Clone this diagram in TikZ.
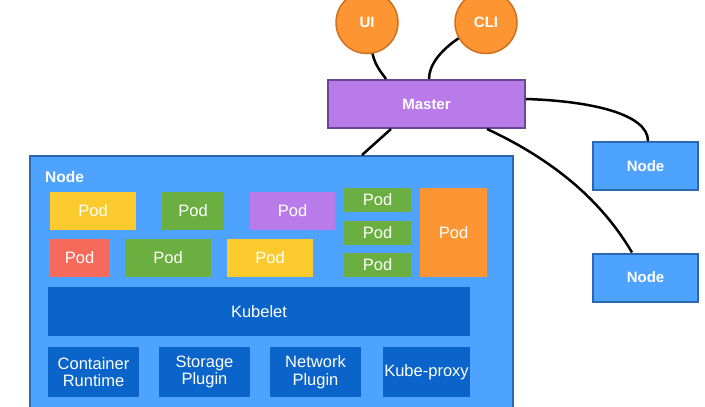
\documentclass[tikz,border=0pt]{standalone}
\usepackage{fontspec}
\setmainfont{Liberation Sans}
\usetikzlibrary{calc}
\definecolor{nodeblue}{HTML}{4DA3FF}
\definecolor{nodeborder}{HTML}{2C68AE}
\definecolor{darkblue}{HTML}{0A64C9}
\definecolor{podyellow}{HTML}{FBCB2D}
\definecolor{podgreen}{HTML}{6AAF3F}
\definecolor{podpurple}{HTML}{B97BE9}
\definecolor{podred}{HTML}{F7695A}
\definecolor{podorange}{HTML}{FC9532}
\definecolor{circborder}{HTML}{D06F1C}
\definecolor{masterborder}{HTML}{6A4795}
\begin{document}
\begin{tikzpicture}[x=1pt,y=-1pt,
  box/.style={draw=none, inner sep=0pt, outer sep=0pt, text=white,
    font=\fontsize{16.5}{17.5}\selectfont, align=center},
  pod/.style={box, minimum height=38pt},
  comp/.style={box, fill=darkblue},
  bold/.style={font=\fontsize{15}{17}\selectfont\bfseries, text=white},
  client/.style={circle, fill=podorange, draw=circborder, line width=1.5pt,
    minimum size=62pt, inner sep=0pt, bold},
  worker/.style={draw=nodeborder, line width=2pt, fill=nodeblue, inner sep=0pt,
    minimum width=105pt, minimum height=48pt, bold},
  link/.style={black, line width=2.5pt}
]
\useasboundingbox (0,0) rectangle (705,407);
\begin{scope}
\clip (0,0) rectangle (705,407);

% big node container
\node[draw=nodeborder, line width=1.5pt, fill=nodeblue, inner sep=0pt,
  minimum width=483pt, minimum height=270pt, anchor=north west] (bignode) at (29,155) {};
\node[bold, anchor=west, inner sep=0pt, font=\fontsize{15.5}{17}\selectfont\bfseries] (bignodelabel) at (45,177) {Node};

% pods row 1
\node[pod, fill=podyellow, minimum width=86pt] (p1) at (93,211) {Pod};
\node[pod, fill=podgreen, minimum width=62pt] (p2) at (193,211) {Pod};
\node[pod, fill=podpurple, minimum width=85pt] (p3) at (292.5,211) {Pod};
\node[box, fill=podgreen, minimum width=67pt, minimum height=24pt] (s1) at (377.5,200) {Pod};
\node[box, fill=podgreen, minimum width=67pt, minimum height=24pt] (s2) at (377.5,233) {Pod};
\node[box, fill=podgreen, minimum width=67pt, minimum height=24pt] (s3) at (377.5,265) {Pod};
\node[box, fill=podorange, minimum width=67pt, minimum height=89pt] (po) at (453.5,232.5) {Pod};
% pods row 2
\node[pod, fill=podred, minimum width=59pt] (p4) at (79.5,258) {Pod};
\node[pod, fill=podgreen, minimum width=86pt] (p5) at (168,258) {Pod};
\node[pod, fill=podyellow, minimum width=86pt] (p6) at (270,258) {Pod};

% kubelet and components
\node[comp, minimum width=422pt, minimum height=49pt] (kubelet) at (259,311.5) {Kubelet};
\node[comp, minimum width=91pt, minimum height=50pt] (cr) at (93.5,372) {Container\\Runtime};
\node[comp, minimum width=91pt, minimum height=50pt] (sp) at (204.5,372) {Storage\\Plugin};
\node[comp, minimum width=91pt, minimum height=50pt] (np) at (315.5,372) {Network\\Plugin};
\node[comp, minimum width=87pt, minimum height=50pt] (kp) at (426.5,372) {Kube-proxy};

% master, clients, workers
\node[draw=masterborder, line width=2pt, fill=podpurple, inner sep=0pt,
  minimum width=197pt, minimum height=48pt, bold] (master) at (426.5,104) {Master};
\node[client] (ui) at (367,22.5) {UI};
\node[client] (cli) at (486,22.5) {CLI};
\node[worker] (n1) at (645.5,166) {Node};
\node[worker] (n2) at (645.5,277.5) {Node};

% connectors
\draw[link] (ui.280) .. controls +(3,13) and +(-4,-6) .. ($(master.north west)+(59,0)$);
\draw[link] (cli.210) .. controls +(-18,12) and +(0,-14) .. ($(master.north west)+(102,0)$);
\draw[link] ($(master.north east)+(0,20)$) .. controls +(65,2) and +(0,-27) .. ($(n1.north west)+(56,0)$);
\draw[link] ($(master.south west)+(160,0)$) .. controls +(58,27) and +(-34,-58) .. ($(n2.north west)+(40,0)$);
\draw[link] ($(master.south west)+(64,0)$) -- ($(bignode.north west)+(333,0)$);
\end{scope}
\end{tikzpicture}
\end{document}
